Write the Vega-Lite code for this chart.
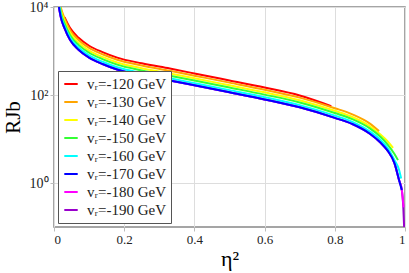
{
  "$schema": "https://vega.github.io/schema/vega-lite/v6.json",
  "width": 351,
  "height": 220,
  "autosize": {"type": "none"},
  "padding": {"left": 54, "top": 7, "right": 4, "bottom": 46},
  "background": "white",
  "config": {
    "font": "Liberation Serif",
    "view": {"stroke": "#888888", "strokeWidth": 1.5},
    "axis": {"gridColor": "#dddddd", "gridWidth": 1, "domain": false, "tickColor": "#bbbbbb", "tickSize": 4, "labelFont": "Liberation Serif", "labelFontSize": 14, "labelColor": "#222", "titleFont": "Liberation Serif", "titleColor": "#000", "titleFontWeight": "normal", "labelOverlap": false},
    "legend": {"labelFont": "Liberation Serif"},
    "text": {"font": "Liberation Serif"}
  },
  "data": {"values": [
    {"v": -190, "x": 0.014, "R": 10000}, {"v": -190, "x": 0.02, "R": 5623}, {"v": -190, "x": 0.03, "R": 3311}, {"v": -190, "x": 0.046, "R": 1778}, {"v": -190, "x": 0.07, "R": 1072}, {"v": -190, "x": 0.1, "R": 708}, {"v": -190, "x": 0.14, "R": 501}, {"v": -190, "x": 0.18, "R": 380}, {"v": -190, "x": 0.25, "R": 282}, {"v": -190, "x": 0.33, "R": 214}, {"v": -190, "x": 0.4, "R": 166}, {"v": -190, "x": 0.5, "R": 115}, {"v": -190, "x": 0.6, "R": 79.4}, {"v": -190, "x": 0.7, "R": 52.5}, {"v": -190, "x": 0.8, "R": 30.2}, {"v": -190, "x": 0.85, "R": 21.9}, {"v": -190, "x": 0.9, "R": 13.2}, {"v": -190, "x": 0.93, "R": 8.32}, {"v": -190, "x": 0.95, "R": 5.5}, {"v": -190, "x": 0.97, "R": 2.82}, {"v": -190, "x": 0.983, "R": 1.17}, {"v": -190, "x": 0.991, "R": 0.69}, {"v": -190, "x": 0.995, "R": 0.3}, {"v": -190, "x": 0.9975, "R": 0.1},
    {"v": -180, "x": 0.014, "R": 10000}, {"v": -180, "x": 0.02, "R": 5623}, {"v": -180, "x": 0.03, "R": 3311}, {"v": -180, "x": 0.046, "R": 1778}, {"v": -180, "x": 0.07, "R": 1072}, {"v": -180, "x": 0.1, "R": 708}, {"v": -180, "x": 0.14, "R": 501}, {"v": -180, "x": 0.18, "R": 380}, {"v": -180, "x": 0.25, "R": 282}, {"v": -180, "x": 0.33, "R": 214}, {"v": -180, "x": 0.4, "R": 166}, {"v": -180, "x": 0.5, "R": 115}, {"v": -180, "x": 0.6, "R": 79.4}, {"v": -180, "x": 0.7, "R": 52.5}, {"v": -180, "x": 0.8, "R": 30.2}, {"v": -180, "x": 0.85, "R": 21.9}, {"v": -180, "x": 0.9, "R": 13.2}, {"v": -180, "x": 0.93, "R": 8.32}, {"v": -180, "x": 0.95, "R": 5.5}, {"v": -180, "x": 0.97, "R": 2.82}, {"v": -180, "x": 0.983, "R": 1.17}, {"v": -180, "x": 0.991, "R": 0.69}, {"v": -180, "x": 0.996, "R": 0.28},
    {"v": -120, "x": 0.03, "R": 5888}, {"v": -120, "x": 0.046, "R": 3311}, {"v": -120, "x": 0.07, "R": 1995}, {"v": -120, "x": 0.1, "R": 1318}, {"v": -120, "x": 0.14, "R": 933}, {"v": -120, "x": 0.18, "R": 708}, {"v": -120, "x": 0.25, "R": 525}, {"v": -120, "x": 0.33, "R": 398}, {"v": -120, "x": 0.4, "R": 309}, {"v": -120, "x": 0.5, "R": 214}, {"v": -120, "x": 0.6, "R": 148}, {"v": -120, "x": 0.7, "R": 97.7}, {"v": -120, "x": 0.79, "R": 56},
    {"v": -130, "x": 0.019, "R": 10000}, {"v": -130, "x": 0.02, "R": 9333}, {"v": -130, "x": 0.03, "R": 5495}, {"v": -130, "x": 0.046, "R": 2951}, {"v": -130, "x": 0.07, "R": 1778}, {"v": -130, "x": 0.1, "R": 1175}, {"v": -130, "x": 0.14, "R": 832}, {"v": -130, "x": 0.18, "R": 631}, {"v": -130, "x": 0.25, "R": 468}, {"v": -130, "x": 0.33, "R": 355}, {"v": -130, "x": 0.4, "R": 275}, {"v": -130, "x": 0.5, "R": 191}, {"v": -130, "x": 0.6, "R": 132}, {"v": -130, "x": 0.7, "R": 87.1}, {"v": -130, "x": 0.8, "R": 50.1}, {"v": -130, "x": 0.85, "R": 36.3}, {"v": -130, "x": 0.9, "R": 22.4}, {"v": -130, "x": 0.926, "R": 15.1},
    {"v": -140, "x": 0.017, "R": 10000}, {"v": -140, "x": 0.02, "R": 8128}, {"v": -140, "x": 0.03, "R": 4786}, {"v": -140, "x": 0.046, "R": 2570}, {"v": -140, "x": 0.07, "R": 1549}, {"v": -140, "x": 0.1, "R": 1023}, {"v": -140, "x": 0.14, "R": 724}, {"v": -140, "x": 0.18, "R": 550}, {"v": -140, "x": 0.25, "R": 407}, {"v": -140, "x": 0.33, "R": 309}, {"v": -140, "x": 0.4, "R": 240}, {"v": -140, "x": 0.5, "R": 166}, {"v": -140, "x": 0.6, "R": 115}, {"v": -140, "x": 0.7, "R": 75.9}, {"v": -140, "x": 0.8, "R": 43.7}, {"v": -140, "x": 0.85, "R": 31.6}, {"v": -140, "x": 0.9, "R": 19.5}, {"v": -140, "x": 0.93, "R": 12.6}, {"v": -140, "x": 0.95, "R": 8.91}, {"v": -140, "x": 0.966, "R": 6.31},
    {"v": -150, "x": 0.017, "R": 10000}, {"v": -150, "x": 0.02, "R": 7244}, {"v": -150, "x": 0.03, "R": 4266}, {"v": -150, "x": 0.046, "R": 2291}, {"v": -150, "x": 0.07, "R": 1380}, {"v": -150, "x": 0.1, "R": 912}, {"v": -150, "x": 0.14, "R": 646}, {"v": -150, "x": 0.18, "R": 490}, {"v": -150, "x": 0.25, "R": 363}, {"v": -150, "x": 0.33, "R": 275}, {"v": -150, "x": 0.4, "R": 214}, {"v": -150, "x": 0.5, "R": 148}, {"v": -150, "x": 0.6, "R": 102}, {"v": -150, "x": 0.7, "R": 67.6}, {"v": -150, "x": 0.8, "R": 38.9}, {"v": -150, "x": 0.85, "R": 28.2}, {"v": -150, "x": 0.9, "R": 17.4}, {"v": -150, "x": 0.93, "R": 11.2}, {"v": -150, "x": 0.95, "R": 7.59}, {"v": -150, "x": 0.97, "R": 4.57}, {"v": -150, "x": 0.98, "R": 3.31},
    {"v": -160, "x": 0.016, "R": 10000}, {"v": -160, "x": 0.02, "R": 6310}, {"v": -160, "x": 0.03, "R": 3715}, {"v": -160, "x": 0.046, "R": 1995}, {"v": -160, "x": 0.07, "R": 1202}, {"v": -160, "x": 0.1, "R": 794}, {"v": -160, "x": 0.14, "R": 562}, {"v": -160, "x": 0.18, "R": 427}, {"v": -160, "x": 0.25, "R": 316}, {"v": -160, "x": 0.33, "R": 240}, {"v": -160, "x": 0.4, "R": 186}, {"v": -160, "x": 0.5, "R": 129}, {"v": -160, "x": 0.6, "R": 89.1}, {"v": -160, "x": 0.7, "R": 58.9}, {"v": -160, "x": 0.8, "R": 33.9}, {"v": -160, "x": 0.85, "R": 24.5}, {"v": -160, "x": 0.9, "R": 14.8}, {"v": -160, "x": 0.93, "R": 9.55}, {"v": -160, "x": 0.95, "R": 6.31}, {"v": -160, "x": 0.97, "R": 3.31}, {"v": -160, "x": 0.983, "R": 2.0}, {"v": -160, "x": 0.989, "R": 1.26},
    {"v": -170, "x": 0.014, "R": 10000}, {"v": -170, "x": 0.02, "R": 5623}, {"v": -170, "x": 0.03, "R": 3311}, {"v": -170, "x": 0.046, "R": 1778}, {"v": -170, "x": 0.07, "R": 1072}, {"v": -170, "x": 0.1, "R": 708}, {"v": -170, "x": 0.14, "R": 501}, {"v": -170, "x": 0.18, "R": 380}, {"v": -170, "x": 0.25, "R": 282}, {"v": -170, "x": 0.33, "R": 214}, {"v": -170, "x": 0.4, "R": 166}, {"v": -170, "x": 0.5, "R": 115}, {"v": -170, "x": 0.6, "R": 79.4}, {"v": -170, "x": 0.7, "R": 52.5}, {"v": -170, "x": 0.8, "R": 30.2}, {"v": -170, "x": 0.85, "R": 21.9}, {"v": -170, "x": 0.9, "R": 13.2}, {"v": -170, "x": 0.93, "R": 8.32}, {"v": -170, "x": 0.95, "R": 5.5}, {"v": -170, "x": 0.97, "R": 2.82}, {"v": -170, "x": 0.983, "R": 1.17}, {"v": -170, "x": 0.991, "R": 0.69}
  ]},
  "mark": {"type": "line", "strokeWidth": 2, "clip": true, "interpolate": "monotone"},
  "encoding": {
    "x": {"field": "x", "type": "quantitative", "scale": {"domain": [0, 1], "nice": false, "zero": false},
      "axis": {"values": [0, 0.2, 0.4, 0.6, 0.8, 1], "format": "~g", "title": "η²", "titleFontSize": 22, "titlePadding": 2, "labelPadding": 2, "labelFontSize": 13, "labelFont": "Liberation Serif"}},
    "y": {"field": "R", "type": "quantitative", "scale": {"type": "log", "domain": [0.1, 10000], "nice": false},
      "axis": {"values": [1, 100, 10000], "labelExpr": "datum.value == 1 ? '10⁰' : datum.value == 100 ? '10²' : '10⁴'", "title": "RJb", "titleFontSize": 21, "titlePadding": 6, "labelPadding": 2, "labelFont": "Liberation Serif"}},
    "color": {"field": "v", "type": "nominal",
      "scale": {"domain": [-120, -130, -140, -150, -160, -170, -180, -190], "range": ["#ff0000", "#ffa500", "#ffff00", "#33ff33", "#00ffff", "#0000ff", "#ff00ff", "#9900cc"]},
      "legend": {"title": null, "orient": "bottom-left", "offset": 4, "labelExpr": "'vᵣ=' + datum.label + ' GeV'", "symbolType": "stroke", "symbolStrokeWidth": 2, "symbolSize": 180, "labelFont": "Liberation Serif", "labelFontSize": 15, "labelColor": "#222", "strokeColor": "#555", "fillColor": "white", "padding": 5, "rowPadding": 2, "labelOffset": 8}}
  }
}
